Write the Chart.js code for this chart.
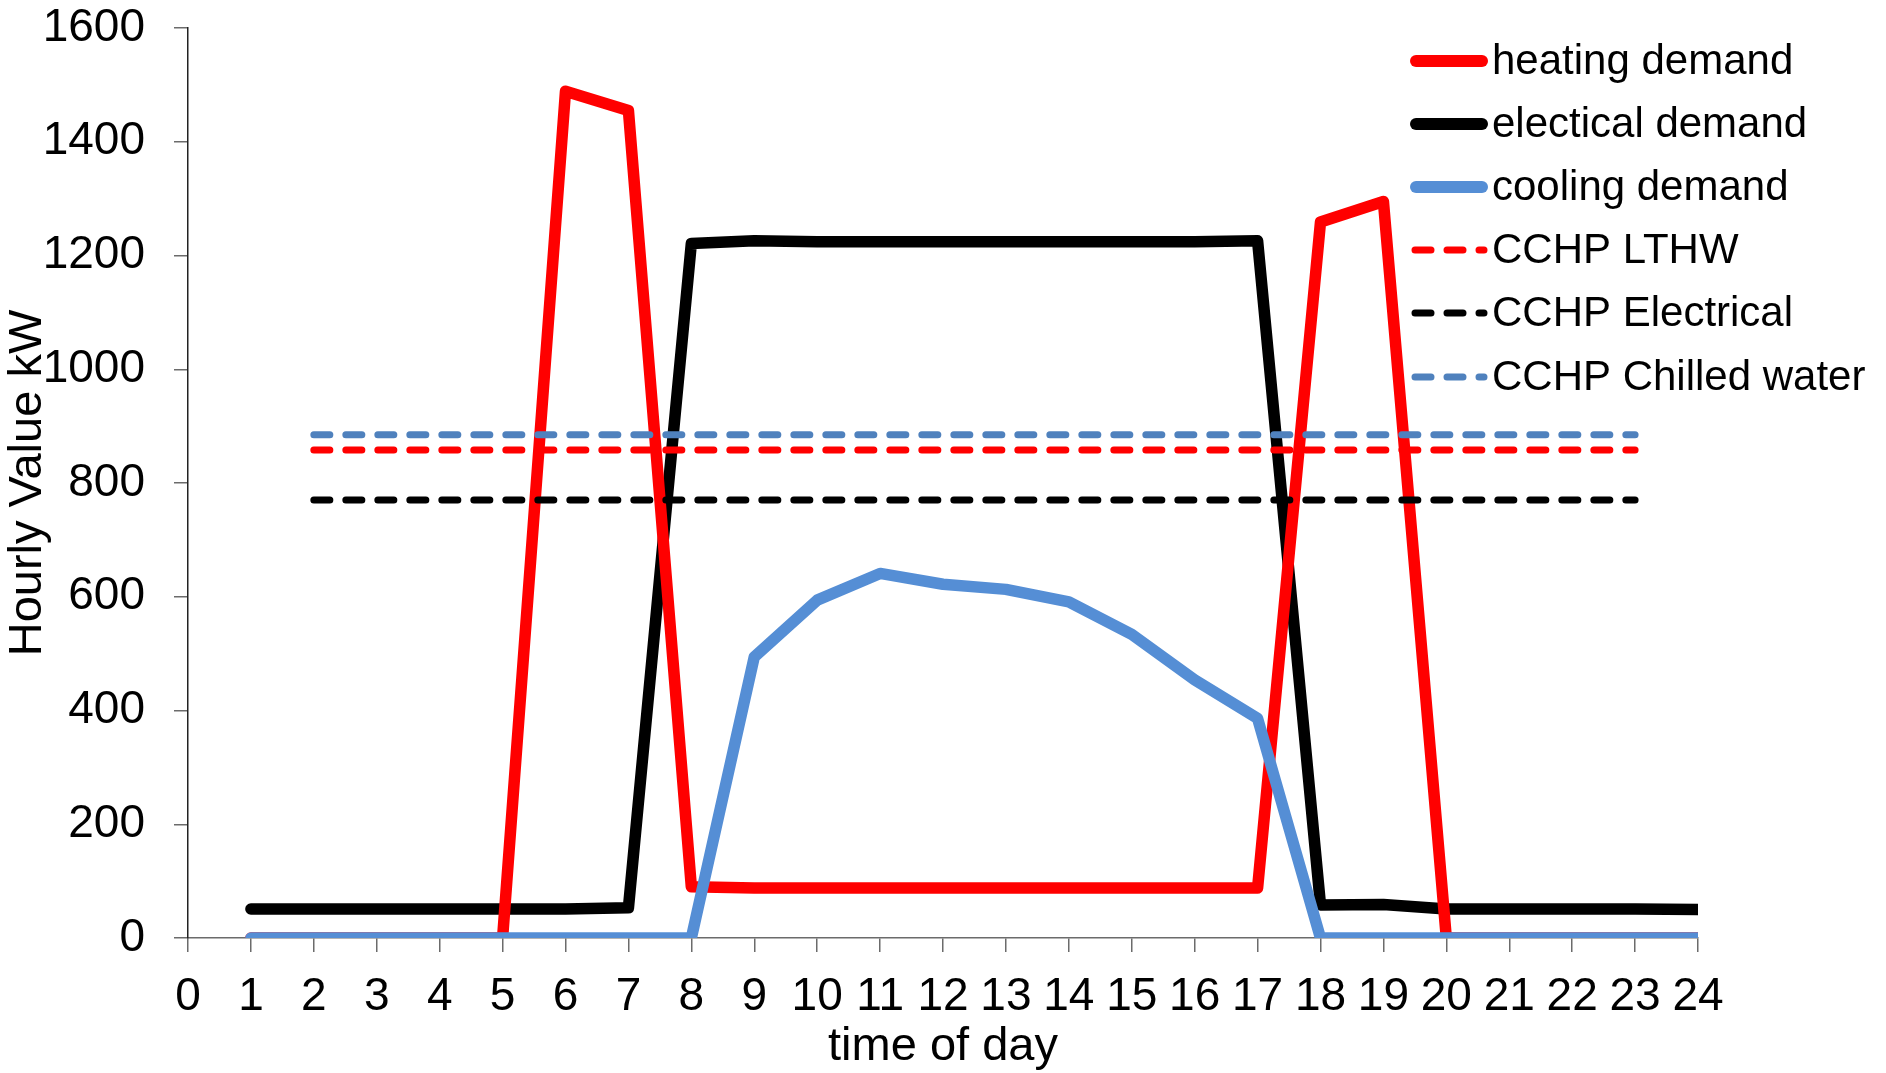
<!DOCTYPE html>
<html>
<head>
<meta charset="utf-8">
<script src="https://cdn.jsdelivr.net/npm/chart.js@4.4.1/dist/chart.umd.min.js"></script>
<style>
  html, body { margin: 0; padding: 0; background: #fff; }
  #wrap { width: 1886px; height: 1073px; }
</style>
</head>
<body>
<div id="wrap"><canvas id="demandChart" width="1886" height="1073"></canvas></div>
<script>
// Hourly values (kW)
const hours = [1, 2, 3, 4, 5, 6, 7, 8, 9, 10, 11, 12, 13, 14, 15, 16, 17, 18, 19, 20, 21, 22, 23, 24];
const heatingDemand = [0, 0, 0, 0, 0, 1489, 1455, 90, 88, 88, 88, 88, 88, 88, 88, 88, 88, 1259, 1295, 0, 0, 0, 0, 0];
const electricalDemand = [51, 51, 51, 51, 51, 51, 53, 1221, 1226, 1224, 1224, 1224, 1224, 1224, 1224, 1224, 1226, 58, 59, 51, 51, 51, 51, 50];
const coolingDemand = [0, 0, 0, 0, 0, 0, 0, 0, 494, 594, 641, 622, 613, 591, 534, 454, 386, 0, 0, 0, 0, 0, 0, 0];
const cchpLTHW = [null, 858, 858, 858, 858, 858, 858, 858, 858, 858, 858, 858, 858, 858, 858, 858, 858, 858, 858, 858, 858, 858, 858, null];
const cchpElectrical = [null, 770, 770, 770, 770, 770, 770, 770, 770, 770, 770, 770, 770, 770, 770, 770, 770, 770, 770, 770, 770, 770, 770, null];
const cchpChilled = [null, 885, 885, 885, 885, 885, 885, 885, 885, 885, 885, 885, 885, 885, 885, 885, 885, 885, 885, 885, 885, 885, 885, null];

const xTicks = [0, 1, 2, 3, 4, 5, 6, 7, 8, 9, 10, 11, 12, 13, 14, 15, 16, 17, 18, 19, 20, 21, 22, 23, 24];
const yTicks = [0, 200, 400, 600, 800, 1000, 1200, 1400, 1600];

const FONT = "'Liberation Sans', Arial, sans-serif";

// pair hours with values for the linear x axis
function toPoints(values) {
  return hours.map((h, i) => ({ x: h, y: values[i] }));
}

function solid(label, values, color, order) {
  return {
    label: label,
    data: toPoints(values),
    borderColor: color,
    backgroundColor: color,
    borderWidth: 11.5,
    borderCapStyle: "round",
    borderJoinStyle: "round",
    pointRadius: 0,
    tension: 0,
    order: order,
  };
}

function dashed(label, values, color, order) {
  return {
    label: label,
    data: toPoints(values),
    borderColor: color,
    backgroundColor: color,
    borderWidth: 7,
    borderDash: [16, 16],
    borderCapStyle: "round",
    pointRadius: 0,
    tension: 0,
    spanGaps: false,
    order: order,
  };
}

// Legend drawn over the plot, top right, like the original
const overlayLegend = {
  id: "overlayLegend",
  afterDraw(chart) {
    const ctx = chart.ctx;
    const x0 = 1416, x1 = 1482, textX = 1492;
    const rowY = [61, 124, 187, 250, 313, 377];
    ctx.save();
    ctx.font = "42px " + FONT;
    ctx.fillStyle = "#000";
    ctx.textAlign = "left";
    ctx.textBaseline = "middle";
    chart.data.datasets.forEach((ds, i) => {
      const y = rowY[i];
      ctx.beginPath();
      ctx.strokeStyle = ds.borderColor;
      ctx.lineCap = "round";
      if (ds.borderDash) {
        ctx.lineWidth = ds.borderWidth;
        ctx.setLineDash(ds.borderDash);
        ctx.moveTo(x0 - 1, y);
        ctx.lineTo(x1 + 2, y);
      } else {
        ctx.lineWidth = 12;
        ctx.setLineDash([]);
        ctx.moveTo(x0, y);
        ctx.lineTo(x1, y);
      }
      ctx.stroke();
      ctx.setLineDash([]);
      ctx.fillText(ds.label, textX, y + 1);
    });
    ctx.restore();
  },
};

new Chart(document.getElementById("demandChart"), {
  type: "line",
  data: {
    datasets: [
      solid("heating demand", heatingDemand, "#FF0000", 5),
      solid("electical demand", electricalDemand, "#000000", 6),
      solid("cooling demand", coolingDemand, "#558ED5", 4),
      dashed("CCHP LTHW", cchpLTHW, "#FF0000", 3),
      dashed("CCHP Electrical", cchpElectrical, "#000000", 2),
      dashed("CCHP Chilled water", cchpChilled, "#4F81BD", 1),
    ],
  },
  options: {
    responsive: false,
    devicePixelRatio: 1,
    animation: false,
    layout: { padding: { top: 28, right: 188, bottom: 0, left: 0 } },
    plugins: {
      legend: { display: false },
      tooltip: { enabled: false },
    },
    scales: {
      x: {
        type: "linear",
        min: 0,
        max: 24,
        afterFit: (scale) => {
          scale.height = 135;
          scale.paddingLeft = 0;
          scale.paddingRight = 0;
        },
        afterBuildTicks: (scale) => { scale.ticks = xTicks.map((v) => ({ value: v })); },
        ticks: {
          autoSkip: false,
          maxRotation: 0,
          padding: 18,
          color: "#000",
          font: { family: FONT, size: 46 },
          callback: (v) => String(v),
        },
        grid: { drawOnChartArea: false, drawTicks: true, tickLength: 14, color: "#6b6b6b", lineWidth: 1.5 },
        border: { color: "#6b6b6b", width: 1.5 },
        title: {
          display: true,
          text: "time of day",
          color: "#000",
          font: { family: FONT, size: 47, lineHeight: 1 },
          padding: { top: 0, bottom: 2 },
        },
      },
      y: {
        min: 0,
        max: 1600,
        afterFit: (scale) => {
          scale.width = 188;
          scale.paddingTop = 0;
          scale.paddingBottom = 0;
        },
        afterBuildTicks: (scale) => { scale.ticks = yTicks.map((v) => ({ value: v })); },
        ticks: {
          padding: 29,
          color: "#000",
          font: { family: FONT, size: 46 },
          callback: (v) => String(v),
        },
        grid: { drawOnChartArea: false, drawTicks: true, tickLength: 14, color: "#6b6b6b", lineWidth: 1.5 },
        border: { color: "#222", width: 1.5 },
        title: {
          display: true,
          text: "Hourly Value kW",
          color: "#000",
          font: { family: FONT, size: 47 },
          padding: 0,
        },
      },
    },
  },
  plugins: [overlayLegend],
});
</script>
</body>
</html>
